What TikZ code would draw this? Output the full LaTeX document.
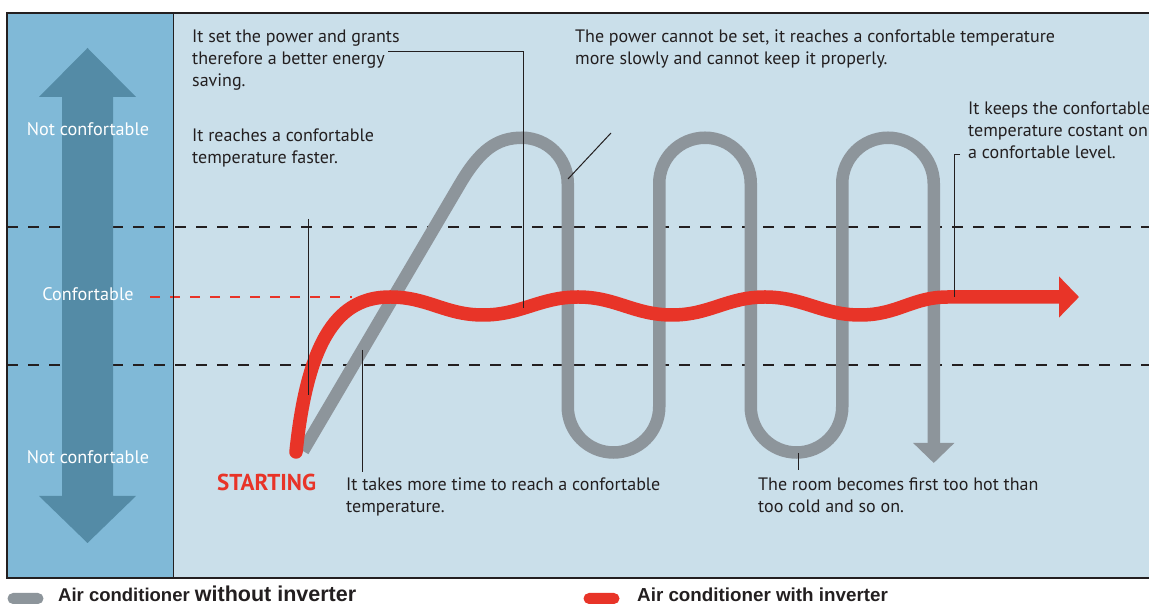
\documentclass[tikz,border=0pt]{standalone}
\usepackage{fontspec}
\setmainfont{PT Sans}
\newfontfamily\legfont{Liberation Sans}
\usetikzlibrary{arrows.meta}
\definecolor{panel}{HTML}{80B9D7}
\definecolor{bgmain}{HTML}{CADFEA}
\definecolor{arrowblue}{HTML}{548BA6}
\definecolor{acgray}{HTML}{8D959B}
\definecolor{acred}{HTML}{E83428}
\definecolor{ink}{HTML}{231F20}
\begin{document}
\begin{tikzpicture}[x=1pt,y=1pt,
  body/.style={anchor=base west, inner sep=0pt, text=ink, font=\fontsize{18}{22}\selectfont},
  panellabel/.style={anchor=base, inner sep=0pt, text=white, font=\fontsize{18.2}{22}\selectfont},
  leader/.style={draw=ink, line width=1pt},
  level/.style={draw=ink, line width=1.3pt, dash pattern=on 11pt off 10pt},
  grayline/.style={draw=acgray, line width=12.5pt},
  redline/.style={draw=acred, line width=13.5pt},
  bigtip/.style={-{Triangle[width=40pt,length=20pt]}},
  pill/.style={inner sep=0pt, minimum width=36pt, minimum height=11pt, rounded corners=5.5pt},
  legend/.style={anchor=base west, inner sep=0pt, text=ink, font=\legfont\bfseries\fontsize{18.5}{20}\selectfont},
]
\useasboundingbox (0,0) rectangle (1149,604);
\clip (0,0) rectangle (1149,604);
\fill[white] (0,0) rectangle (1149,604);
% panels
\fill[bgmain] (7,26) rectangle (1160,591);
\fill[panel] (7,26) rectangle (173,591);
% level lines
\draw[level] (7,377) -- (1160,377);
\draw[level] (7,239) -- (1160,239);
\draw[acred, line width=1.3pt, dash pattern=on 10pt off 10pt] (150,307) -- (352,307);
% double arrow
\fill[arrowblue] (62,108) -- (62,507) -- (39,507) -- (87.5,556) -- (136,507) -- (113,507)
  -- (113,108) -- (136,108) -- (87.5,61) -- (39,108) -- cycle;
% frame
\draw[ink, line width=1.5pt] (1160,591) -- (7,591) -- (7,26) -- (1160,26);
\draw[ink, line width=1pt] (173,26) -- (173,591);
% panel labels
\node[panellabel] (pnc1) at (88,468) {Not confortable};
\node[panellabel] (pc) at (88,303) {Confortable};
\node[panellabel] (pnc2) at (88,140) {Not confortable};
% gray curve (without inverter)
\draw[grayline, bigtip] (303,153) -- (460,420) .. controls (480,454) and (497,466.25) .. (522,466.25)
  arc[start angle=90,end angle=0,radius=45.75] -- (567.75,197.25)
  arc[start angle=180,end angle=360,radius=45.75] -- (659.25,420.5)
  arc[start angle=180,end angle=0,radius=45.75] -- (750.75,197.25)
  arc[start angle=180,end angle=360,radius=45.75] -- (842.25,420.5)
  arc[start angle=180,end angle=0,radius=45.75] -- (933.75,141);
% red curve (with inverter)
\draw[redline, line cap=round, bigtip] (296,152) .. controls (308,268) and (340,307) .. (390,307)
  .. controls (428,307) and (445,289) .. (483,289)
  .. controls (521,289) and (540,307) .. (578,307)
  .. controls (616,307) and (634,289) .. (672,289)
  .. controls (710,289) and (727,307) .. (765,307)
  .. controls (803,307) and (822,289) .. (860,289)
  .. controls (898,289) and (912,307) .. (948,307) -- (1079,307);
% texts
\node[body] (t1a) at (192,561) {It set the power and grants};
\node[body] (t1b) at (192,539) {therefore a better energy};
\node[body] (t1c) at (192,517) {saving.};
\node[body] (t2a) at (192,462) {It reaches a confortable};
\node[body] (t2b) at (192,440) {temperature faster.};
\node[body] (t3a) at (575,561) {The power cannot be set, it reaches a confortable temperature};
\node[body] (t3b) at (575,539) {more slowly and cannot keep it properly.};
\node[body] (t4a) at (968,489) {It keeps the confortable};
\node[body] (t4b) at (968,467) {temperature costant on};
\node[body] (t4c) at (968,445) {a confortable level.};
\node[anchor=base west, inner sep=0pt, text=acred, font=\bfseries\fontsize{23}{24}\selectfont] (start) at (217,113) {STARTING};
\node[body] (t5a) at (346,113) {It takes more time to reach a confortable};
\node[body] (t5b) at (346,91) {temperature.};
\node[body] (t6a) at (758,113) {The room becomes first too hot than};
\node[body] (t6b) at (758,91) {too cold and so on.};
% leaders
\coordinate (l1a) at (388,552); \coordinate (l1b) at (523,552); \coordinate (l1c) at (523,296);
\draw[leader] (l1a) -- (l1b) -- (l1c);
\coordinate (l2a) at (308,385); \coordinate (l2b) at (308,209);
\draw[leader] (l2a) -- (l2b);
\coordinate (l3a) at (611,471); \coordinate (l3b) at (568,425);
\draw[leader] (l3a) -- (l3b);
\coordinate (l4a) at (960,449); \coordinate (l4b) at (954,449); \coordinate (l4c) at (954,307);
\draw[leader] (l4a) -- (l4b) -- (l4c);
\coordinate (l5a) at (362,254); \coordinate (l5b) at (362,132);
\draw[leader] (l5a) -- (l5b);
\coordinate (l6a) at (798.5,151); \coordinate (l6b) at (798.5,134);
\draw[leader, line width=1.3pt] (l6a) -- (l6b);
% legend
\node[pill, fill=acgray] (lgp1) at (25.5,5.5) {};
\node[legend] (lg1) at (58,2.5) {Air conditioner {\fontsize{21.5}{22}\selectfont without inverter}};
\node[pill, fill=acred] (lgp2) at (601.5,5.5) {};
\node[legend, font=\legfont\bfseries\fontsize{18.8}{20}\selectfont] (lg2) at (637,2.5) {Air conditioner with inverter};
\end{tikzpicture}
\end{document}
